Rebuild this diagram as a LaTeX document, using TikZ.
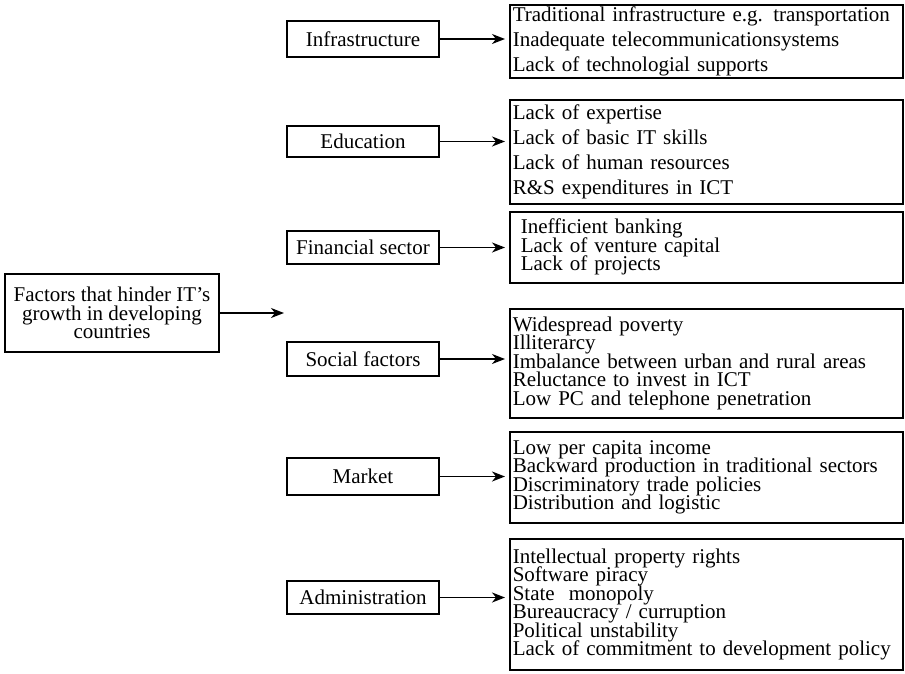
\documentclass[tikz,border=0pt]{standalone}
\usepackage{fontspec}
\setmainfont{Liberation Serif}
\usetikzlibrary{positioning, arrows.meta}
\tikzset{>={Stealth[length=13pt,width=10pt,inset=4pt]}}
\tikzset{
  txt/.style={font={\fontsize{21}{18.5}\selectfont\lineskiplimit=-\maxdimen}},
  wide/.style={font={\fontsize{21}{25}\selectfont}},
  catbox/.style={draw, txt, minimum width=152pt, minimum height=34pt, inner sep=2pt},
  listbox/.style={draw, txt, anchor=north west, text width=387pt,
    inner xsep=3pt, inner ysep=1pt, align=left,
    execute at begin node={\hyphenpenalty=10000\exhyphenpenalty=10000}},
}

\begin{document}
\begin{tikzpicture}[x=1pt, y=-1pt, line width=1.6pt]
  \useasboundingbox (0,0) rectangle (905,673);

  % main box
  \node[draw, txt, align=center, minimum width=214pt, minimum height=78pt,
    inner sep=2pt] (factors) at (112,313)
    {Factors that hinder IT’s\\growth in developing\\countries};
  \coordinate (hub) at (284,313);
  \draw[->] (factors.east) -- (hub);

  % categories
  \node[catbox, minimum height=36pt] (infra) at (363,39) {Infrastructure};
  \node[catbox, minimum height=31pt] (edu) at (363,141.5) {Education};
  \node[catbox, minimum height=33pt] (fin) at (363,247.5) {Financial sector};
  \node[catbox] (social) at (363,359) {Social factors};
  \node[catbox, minimum height=37pt] (market) at (363,476.5) {Market};
  \node[catbox, minimum height=33pt] (admin) at (363,597.5) {Administration};

  % lists
  \node[listbox, wide, minimum height=73pt] (infra-list) at (509,4)
    {Traditional infrastructure e.g. transportation\\
     Inadequate telecommunicationsystems\\
     Lack of technologial supports};
  \node[listbox, wide, minimum height=104pt] (edu-list) at (509,99)
    {Lack of expertise\\
     Lack of basic IT skills\\
     Lack of human resources\\
     R\&S expenditures in ICT};
  \node[listbox, minimum height=71pt] (fin-list) at (509,211)
    {\hspace*{8pt}Inefficient banking\\
     \hspace*{8pt}Lack of venture capital\\
     \hspace*{8pt}Lack of projects};
  \node[listbox, minimum height=109pt] (social-list) at (509,308)
    {Widespread poverty\\
     Illiterarcy\\
     Imbalance between urban and rural areas\\
     Reluctance to invest in ICT\\
     Low PC and telephone penetration};
  \node[listbox, minimum height=91pt] (market-list) at (509,431)
    {Low per capita income\\
     Backward production in traditional sectors\\
     Discriminatory trade policies\\
     Distribution and logistic};
  \node[listbox, minimum height=131pt] (admin-list) at (509,538)
    {Intellectual property rights\\
     Software piracy\\
     State~~monopoly\\
     Bureaucracy / curruption\\
     Political unstability\\
     Lack of commitment to development policy};

  \foreach \c in {infra, edu, fin, social, market, admin}
    \draw[->, shorten >=4pt] (\c.east) -- (\c.east -| \c-list.west);
\end{tikzpicture}
\end{document}
